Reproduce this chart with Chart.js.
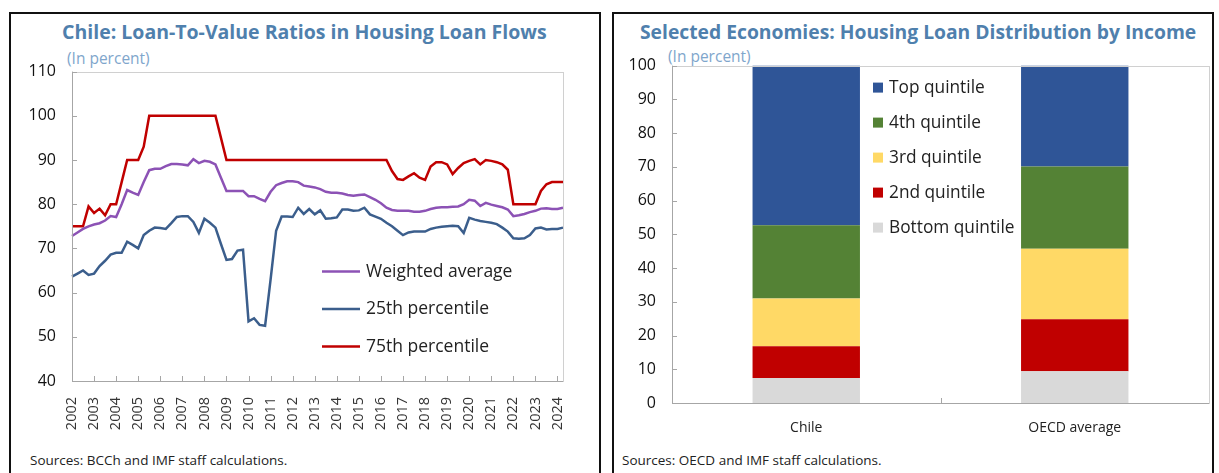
<!DOCTYPE html>
<html lang="en">
<head>
<meta charset="UTF-8">
<meta name="viewport" content="width=device-width, initial-scale=1.0">
<title>Chile: Housing Loans</title>
<script src="https://cdn.jsdelivr.net/npm/chart.js"></script>
<style>
    body { margin: 0; background: #fff; font-family: "Open Sans", sans-serif; width: 1219px; height: 473px; overflow: hidden; position: relative; }
    .panel { position: absolute; top: 12px; height: 480px; border: 2px solid #111; border-bottom: none; box-sizing: border-box; }
    .title { position: absolute; white-space: nowrap; font-weight: 700; color: #4f80ad; font-size: 18.5px; }
    .sub { position: absolute; white-space: nowrap; color: #7fa6cc; font-size: 15.5px; }
    .src { position: absolute; white-space: nowrap; color: #222; font-size: 13.5px; }
    .box { position: absolute; }
</style>
</head>
<body>
    <!-- Left panel: LTV ratios -->
    <div class="panel" style="left:9px; width:592px;"></div>
    <div class="title" style="left:62px; top:18px; font-size:19.5px;">Chile: Loan-To-Value Ratios in Housing Loan Flows</div>
    <div class="sub" style="left:67px; top:47px;">(In percent)</div>
    <div class="box" style="left:12px; top:46px;"><canvas id="ltvChart" width="580" height="394"></canvas></div>
    <div class="src" style="left:30px; top:451px;">Sources: BCCh and IMF staff calculations.</div>

    <!-- Right panel: loan distribution by income -->
    <div class="panel" style="left:612px; width:602px;"></div>
    <div class="title" style="left:640px; top:18px; font-size:19.3px;">Selected Economies: Housing Loan Distribution by Income</div>
    <div class="sub" style="left:668px; top:45px;">(In percent)</div>
    <div class="box" style="left:614px; top:40px;"><canvas id="incomeChart" width="600" height="410"></canvas></div>
    <div class="src" style="left:622px; top:451px;">Sources: OECD and IMF staff calculations.</div>

<script>
// quarterly LTV series, 2002Q1 - 2024Q2
const quarters = [];
for (let y = 2002; y <= 2024; y++) {
    for (let q = 1; q <= 4; q++) {
        if (y === 2024 && q > 2) break;
        quarters.push(y + 'Q' + q);
    }
}

const weightedAvg = [
    72.8, 73.6, 74.4, 75, 75.4, 75.7, 76.3, 77.3, 77.1, 80,
    83.2, 82.6, 82.1, 85, 87.7, 88, 88, 88.6, 89.1, 89.1,
    89, 88.8, 90.2, 89.3, 89.8, 89.6, 89, 86, 83, 83,
    83, 83, 81.8, 81.8, 81.2, 80.7, 82.8, 84.3, 84.8, 85.2,
    85.2, 85, 84.2, 84, 83.8, 83.4, 82.8, 82.6, 82.6, 82.4,
    82.1, 81.9, 82.1, 82.2, 81.6, 81, 80.2, 79.2, 78.7, 78.5,
    78.5, 78.5, 78.3, 78.3, 78.5, 78.9, 79.2, 79.3, 79.3, 79.4,
    79.5, 80, 81, 80.8, 79.6, 80.3, 79.9, 79.6, 79.3, 78.8,
    77.3, 77.5, 77.8, 78.2, 78.5, 79, 79.1, 78.9, 78.9, 79.2
];

const pct25 = [
    63.6, 64.3, 65, 64, 64.3, 66, 67.2, 68.6, 69, 69,
    71.5, 70.8, 70, 73, 74, 74.7, 74.6, 74.4, 75.7, 77.1,
    77.3, 77.3, 76, 73.5, 76.7, 75.8, 74.7, 71, 67.4, 67.6,
    69.5, 69.7, 53.5, 54.2, 52.7, 52.5, 63, 74, 77.2, 77.2,
    77.1, 79.2, 77.8, 78.9, 77.7, 78.6, 76.7, 76.8, 77, 78.8,
    78.8, 78.5, 78.6, 79.2, 77.7, 77.2, 76.7, 75.8, 75, 74,
    73, 73.6, 73.8, 73.8, 73.8, 74.4, 74.7, 74.9, 75, 75.1,
    75, 73.5, 76.9, 76.5, 76.2, 76, 75.8, 75.5, 74.7, 73.8,
    72.3, 72.2, 72.3, 73, 74.5, 74.7, 74.3, 74.4, 74.4, 74.7
];

const pct75 = [
    75, 75, 75, 79.5, 78, 79, 77.5, 80, 80, 85,
    90, 90, 90, 93, 100, 100, 100, 100, 100, 100,
    100, 100, 100, 100, 100, 100, 100, 95, 90, 90,
    90, 90, 90, 90, 90, 90, 90, 90, 90, 90,
    90, 90, 90, 90, 90, 90, 90, 90, 90, 90,
    90, 90, 90, 90, 90, 90, 90, 90, 87.5, 85.7,
    85.5, 86.3, 87, 86, 85.5, 88.5, 89.5, 89.5, 89, 86.8,
    88.2, 89.3, 89.8, 90.2, 89, 90, 89.8, 89.5, 89, 87.8,
    80, 80, 80, 80, 80, 83, 84.5, 85, 85, 85
];

// stacked shares by income quintile
const economies = ['Chile', 'OECD average'];
const bottomQuintile = [7.4, 9.4];
const secondQuintile = [9.4, 15.4];
const thirdQuintile = [14.2, 20.9];
const fourthQuintile = [21.7, 24.4];
const topQuintile = [47.3, 29.9];

const ltvTicks = [40, 50, 60, 70, 80, 90, 100, 110];
const shareTicks = [0, 10, 20, 30, 40, 50, 60, 70, 80, 90, 100];

const FONT = '"Open Sans", sans-serif';

// plot frame + short inward tick marks
const frameTicks = {
    id: 'frameTicks',
    afterDraw(chart, args, opts) {
        const { ctx, chartArea: a, scales } = chart;
        ctx.save();
        ctx.lineWidth = 1;
        ctx.strokeStyle = '#d0d0d0';
        ctx.strokeRect(Math.round(a.left) + 0.5, Math.round(a.top) + 0.5, Math.round(a.right - a.left), Math.round(a.bottom - a.top));
        ctx.strokeStyle = '#a6a6a6';
        ctx.beginPath();
        ctx.moveTo(Math.round(a.left) + 0.5, a.top);
        ctx.lineTo(Math.round(a.left) + 0.5, a.bottom + 0.5);
        ctx.lineTo(a.right, Math.round(a.bottom) + 0.5);
        (opts.yTicks || []).forEach(v => {
            const py = Math.round(scales.y.getPixelForValue(v)) + 0.5;
            ctx.moveTo(a.left, py);
            ctx.lineTo(a.left + 5, py);
        });
        (opts.xTicks || []).forEach(i => {
            const px = Math.round(opts.xBetween
                ? (scales.x.getPixelForValue(i) + scales.x.getPixelForValue(i + 1)) / 2
                : scales.x.getPixelForValue(i)) + 0.5;
            ctx.moveTo(px, a.bottom);
            ctx.lineTo(px, a.bottom - 5);
        });
        ctx.stroke();
        ctx.restore();
    }
};

// legend drawn inside the plot area
const insideLegend = {
    id: 'insideLegend',
    afterDraw(chart, args, opts) {
        const { ctx, chartArea: a } = chart;
        ctx.save();
        ctx.font = opts.font;
        ctx.fillStyle = '#222';
        ctx.textBaseline = 'middle';
        opts.order.forEach((di, k) => {
            const ds = chart.data.datasets[di];
            const x = a.left + opts.x;
            const y = a.top + opts.y + k * opts.step;
            if (opts.kind === 'line') {
                ctx.strokeStyle = ds.borderColor;
                ctx.lineWidth = 2.5;
                ctx.beginPath();
                ctx.moveTo(x, y);
                ctx.lineTo(x + 38, y);
                ctx.stroke();
                ctx.fillStyle = '#222';
                ctx.fillText(ds.label, x + 44, y);
            } else {
                ctx.fillStyle = ds.backgroundColor;
                ctx.fillRect(x, y - 5, 10, 10);
                ctx.fillStyle = '#222';
                ctx.fillText(ds.label, x + 16, y);
            }
        });
        ctx.restore();
    }
};

new Chart(document.getElementById('ltvChart'), {
    type: 'line',
    data: {
        labels: quarters,
        datasets: [
            { label: 'Weighted average', data: weightedAvg, borderColor: '#8c52b5' },
            { label: '25th percentile', data: pct25, borderColor: '#3b5e8c' },
            { label: '75th percentile', data: pct75, borderColor: '#c00000' }
        ]
    },
    options: {
        responsive: false,
        animation: false,
        layout: { padding: { top: 10, right: 29, left: 0, bottom: 0 } },
        elements: {
            line: { borderWidth: 2.5, tension: 0 },
            point: { radius: 0 }
        },
        scales: {
            x: {
                type: 'category',
                offset: false,
                grid: { display: false },
                border: { display: false },
                afterFit(s) { s.height = 59; },
                ticks: {
                    autoSkip: false,
                    minRotation: 90,
                    maxRotation: 90,
                    padding: 8,
                    color: '#333',
                    font: { family: FONT, size: 14.5 },
                    callback(v, i) { return quarters[i].endsWith('Q1') ? quarters[i].slice(0, 4) : null; }
                }
            },
            y: {
                min: 40,
                max: 110,
                grid: { display: false, drawTicks: false },
                border: { display: false },
                afterFit(s) { s.width = 60; },
                ticks: { stepSize: 10, padding: 16, color: '#111', font: { family: FONT, size: 16 } }
            }
        },
        plugins: {
            legend: { display: false },
            tooltip: { enabled: false },
            frameTicks: {
                yTicks: ltvTicks,
                xTicks: quarters.map((q, i) => q.endsWith('Q1') ? i : -1).filter(i => i > 0)
            },
            insideLegend: { kind: 'line', order: [0, 1, 2], x: 250, y: 200, step: 37.5, font: '17.5px ' + FONT }
        }
    },
    plugins: [frameTicks, insideLegend]
});

new Chart(document.getElementById('incomeChart'), {
    type: 'bar',
    data: {
        labels: economies,
        datasets: [
            { label: 'Bottom quintile', data: bottomQuintile, backgroundColor: '#d9d9d9' },
            { label: '2nd quintile', data: secondQuintile, backgroundColor: '#c00000' },
            { label: '3rd quintile', data: thirdQuintile, backgroundColor: '#ffd966' },
            { label: '4th quintile', data: fourthQuintile, backgroundColor: '#548235' },
            { label: 'Top quintile', data: topQuintile, backgroundColor: '#2f5597' }
        ]
    },
    options: {
        responsive: false,
        animation: false,
        layout: { padding: { top: 10, right: 5, left: 0, bottom: 0 } },
        datasets: { bar: { categoryPercentage: 1, barPercentage: 0.4, borderWidth: 0 } },
        scales: {
            x: {
                stacked: true,
                grid: { display: false, drawTicks: false },
                border: { display: false },
                afterFit(s) { s.height = 47; },
                ticks: { padding: 17, color: '#222', font: { family: FONT, size: 14 } }
            },
            y: {
                stacked: true,
                min: 0,
                max: 100,
                grid: { display: false, drawTicks: false },
                border: { display: false },
                afterFit(s) { s.width = 58; },
                ticks: { stepSize: 10, padding: 16, color: '#111', font: { family: FONT, size: 16 } }
            }
        },
        plugins: {
            legend: { display: false },
            tooltip: { enabled: false },
            frameTicks: { yTicks: shareTicks, xTicks: [0], xBetween: true },
            insideLegend: { kind: 'box', order: [4, 3, 2, 1, 0], x: 201, y: 22, step: 35, font: '17.3px ' + FONT }
        }
    },
    plugins: [frameTicks, insideLegend]
});
</script>
</body>
</html>
